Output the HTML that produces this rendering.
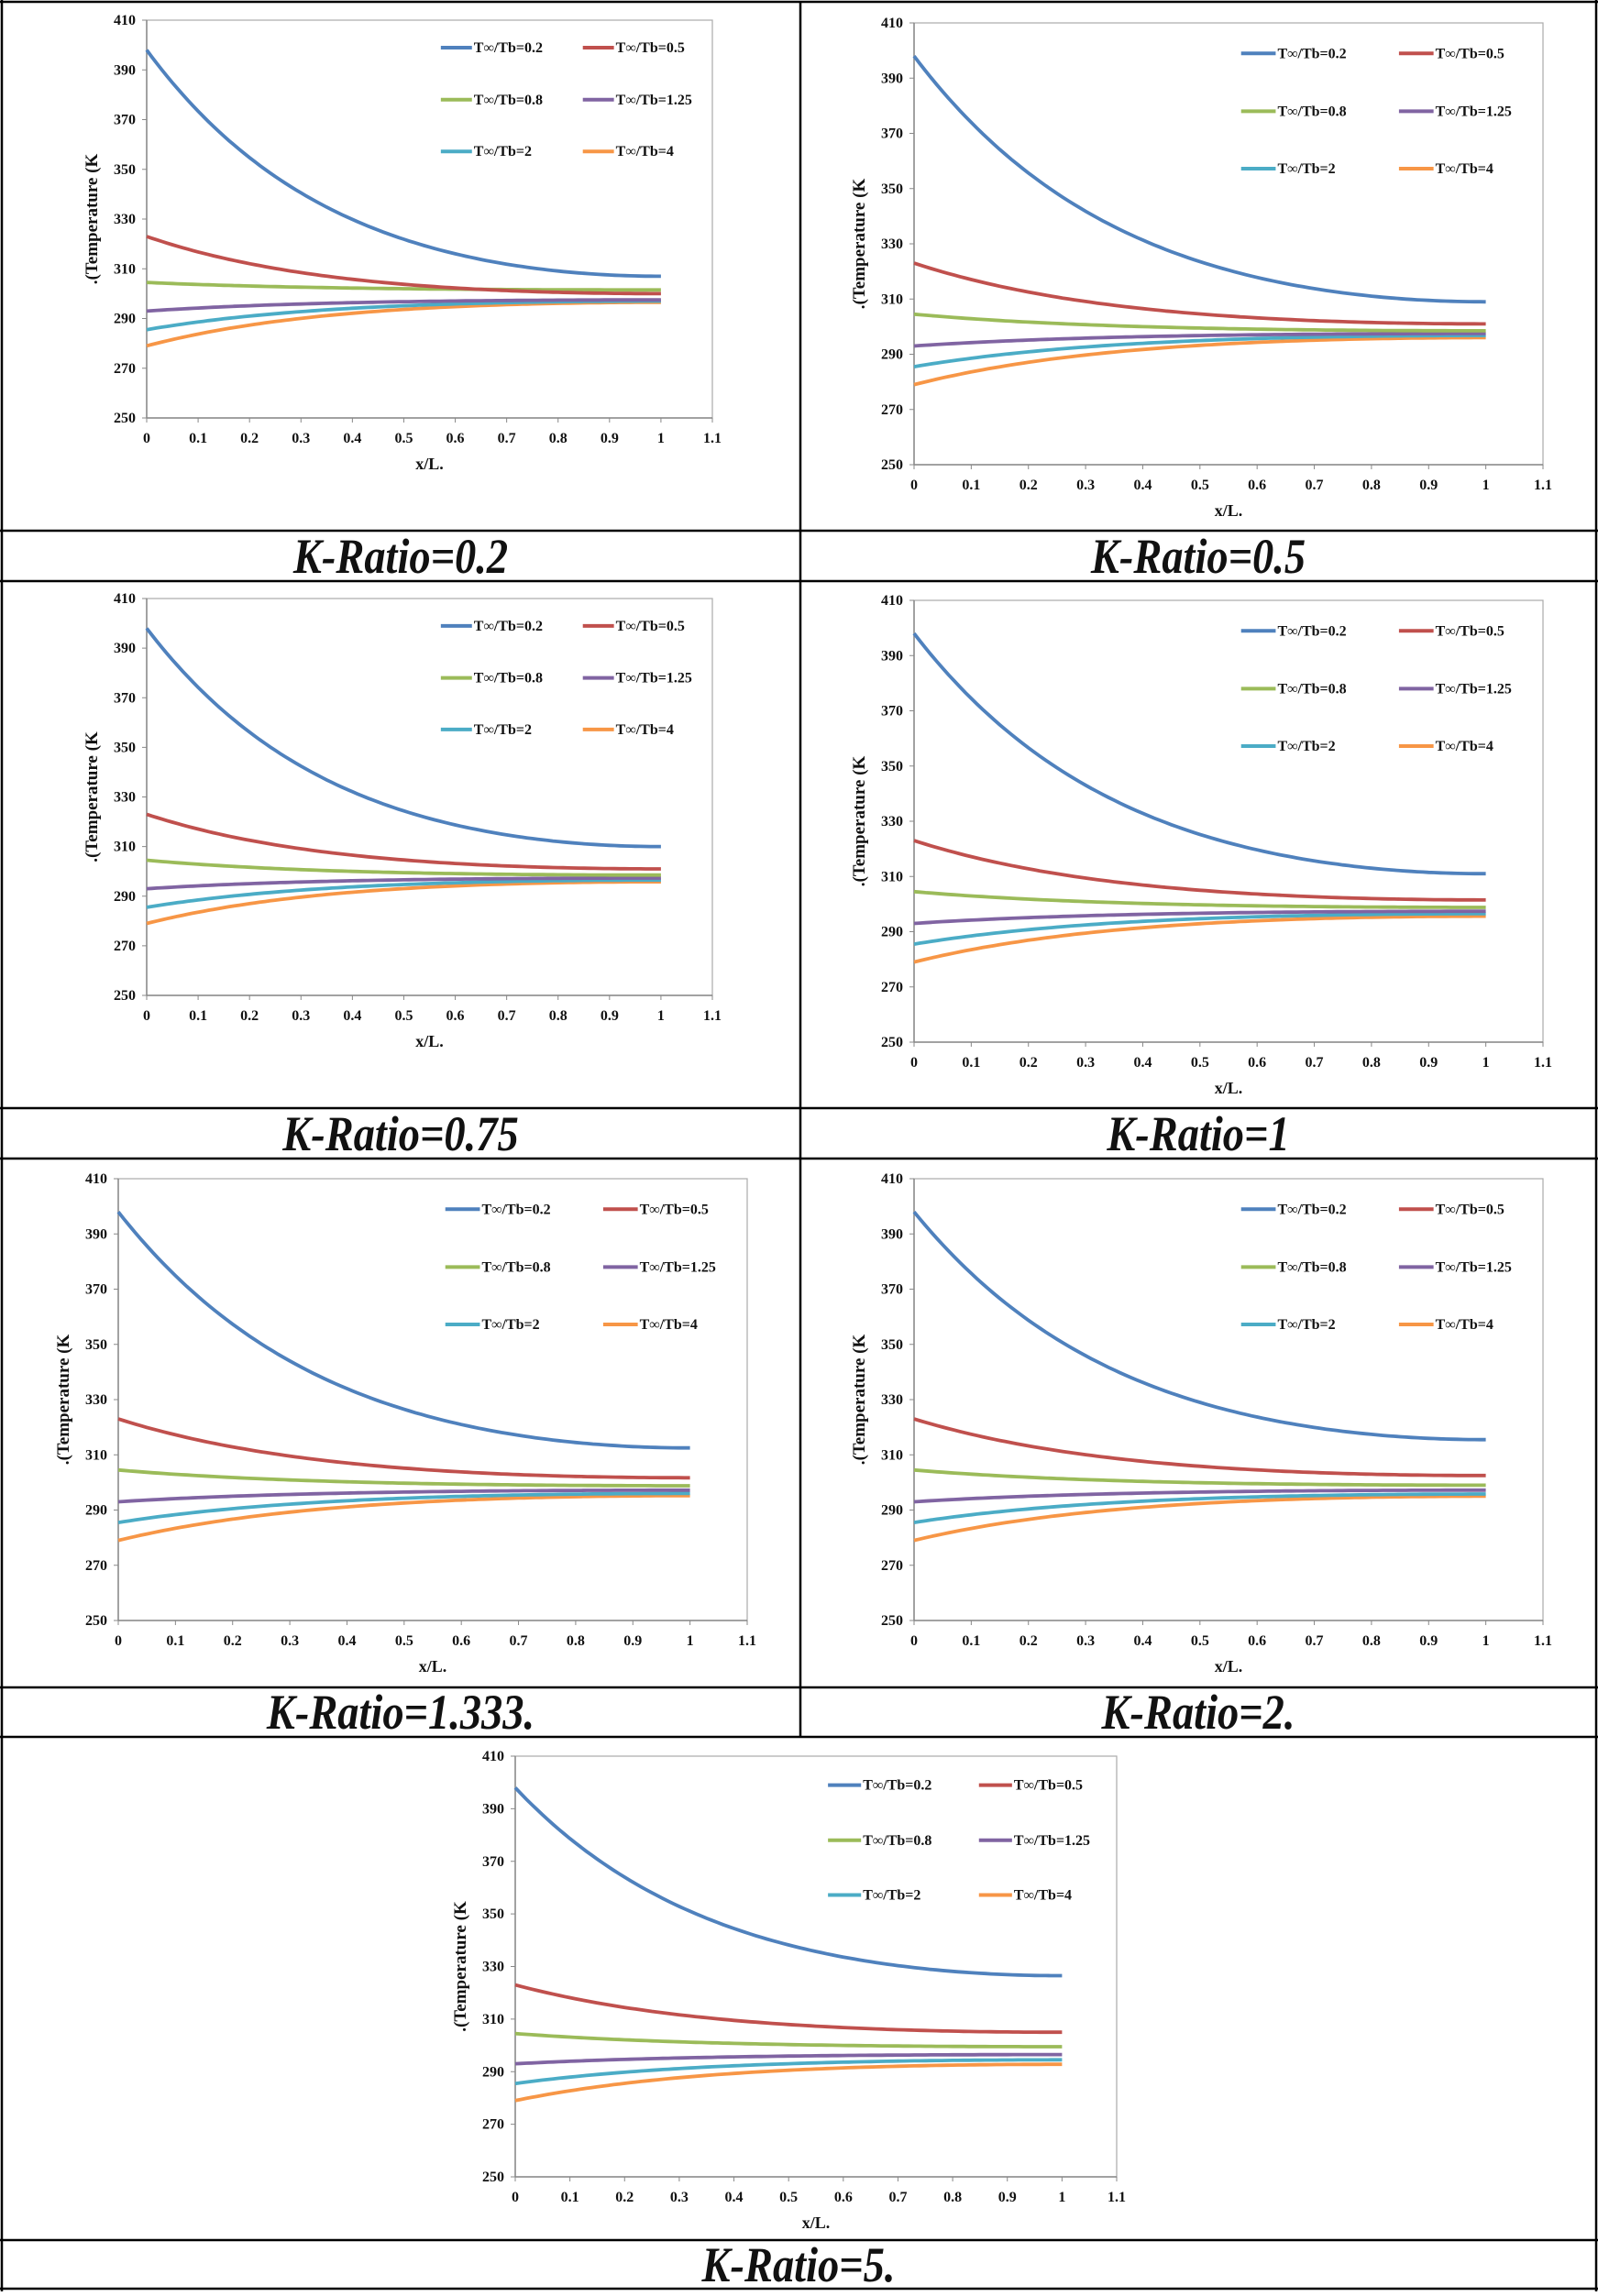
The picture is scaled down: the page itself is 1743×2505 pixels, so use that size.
<!DOCTYPE html>
<html><head><meta charset="utf-8"><style>
html,body{margin:0;padding:0;background:#fff;}
svg text{font-family:"Liberation Serif",serif;font-weight:bold;fill:#111;}
</style></head><body>
<svg id="s" width="1743" height="2500" xmlns="http://www.w3.org/2000/svg"></svg>
<script>
const s=document.getElementById('s');let h='';
const cols=['#4F81BD','#C0504D','#9BBB59','#8064A2','#4BACC6','#F79646'];
const starts=[398,323,304.5,293,285.5,279];
const labs=['T∞/Tb=0.2','T∞/Tb=0.5','T∞/Tb=0.8','T∞/Tb=1.25','T∞/Tb=2','T∞/Tb=4'];
const P=[
 {x0:160,x1:777,yt:22,yb:456,e:[307,300,301.5,297.5,297,296.5]},
 {x0:997,x1:1683,yt:25,yb:507,e:[309,301,298.5,297.5,296.8,296]},
 {x0:160,x1:777,yt:653,yb:1086,e:[310,301,298.5,297.3,296.5,295.8]},
 {x0:997,x1:1683,yt:655,yb:1137,e:[311,301.5,298.8,297.4,296.5,295.6]},
 {x0:129,x1:815,yt:1286,yb:1768,e:[312.5,301.7,298.8,297.2,296,295.2]},
 {x0:997,x1:1683,yt:1286,yb:1768,e:[315.5,302.5,299,297.2,295.8,295]},
 {x0:562,x1:1218,yt:1916,yb:2375,e:[326.5,305,299.5,296.5,294.5,292.8]}
];
const m=2.7,cm=Math.cosh(m)-1;
P.forEach(p=>{
 const w=p.x1-p.x0,H=p.yb-p.yt;
 const X=v=>p.x0+v/1.1*w, Y=t=>p.yb-(t-250)/160*H;
 h+=`<rect x="${p.x0}" y="${p.yt}" width="${w}" height="${H}" fill="none" stroke="#aaa" stroke-width="1.2"/>`;
 h+=`<line x1="${p.x0}" y1="${p.yt}" x2="${p.x0}" y2="${p.yb}" stroke="#888" stroke-width="1.5"/>`;
 h+=`<line x1="${p.x0}" y1="${p.yb}" x2="${p.x1}" y2="${p.yb}" stroke="#888" stroke-width="1.5"/>`;
 for(let i=0;i<=8;i++){const t=250+20*i,y=Y(t);
  h+=`<line x1="${p.x0-5}" y1="${y}" x2="${p.x0}" y2="${y}" stroke="#888"/>`;
  h+=`<text x="${p.x0-12}" y="${y+5}" font-size="16" text-anchor="end">${t}</text>`;}
 for(let i=0;i<=11;i++){const x=X(i/10);
  h+=`<line x1="${x}" y1="${p.yb}" x2="${x}" y2="${p.yb+5}" stroke="#888"/>`;
  h+=`<text x="${x}" y="${p.yb+27}" font-size="16" text-anchor="middle">${i==0?'0':i==10?'1':(i/10).toFixed(1)}</text>`;}
 h+=`<text x="${(p.x0+p.x1)/2}" y="${p.yb+56}" font-size="18" text-anchor="middle">x/L.</text>`;
 const cy=(p.yt+p.yb)/2,cx=p.x0-60;
 h+=`<text x="${cx}" y="${cy}" font-size="19" text-anchor="middle" transform="rotate(-90 ${cx} ${cy})" dy="6">.(Temperature (K</text>`;
 for(let k=5;k>=0;k--){let d='';
  for(let j=0;j<=100;j++){const x=j/100,g=(Math.cosh(m*(1-x))-1)/cm;
   const t=p.e[k]+(starts[k]-p.e[k])*g;d+=(j?'L':'M')+X(x).toFixed(1)+' '+Y(t).toFixed(1);}
  h+=`<path d="${d}" fill="none" stroke="${cols[k]}" stroke-width="3.8"/>`;}
 for(let k=0;k<6;k++){const c=k%2,r=Math.floor(k/2);
  const lx=p.x0+w*(c?0.771:0.52),ly=p.yt+H*[0.069,0.2,0.33][r],ll=w*0.055;
  h+=`<line x1="${lx}" y1="${ly}" x2="${lx+ll}" y2="${ly}" stroke="${cols[k]}" stroke-width="4"/>`;
  h+=`<text x="${lx+ll+2}" y="${ly+5}" font-size="16">${labs[k]}</text>`;}
});
const L=(a,b,c,d)=>h+=`<line x1="${a}" y1="${b}" x2="${c}" y2="${d}" stroke="#000" stroke-width="2.5"/>`;
[2,579,634,1209,1264,1841,1895,2444,2497].forEach(y=>L(0,y,1743,y));
L(2,0,2,2500);L(1741,0,1741,2500);L(873,2,873,1895);
const caps=[['K-Ratio=0.2',437,607],['K-Ratio=0.5',1307,607],['K-Ratio=0.75',437,1237],['K-Ratio=1',1307,1237],['K-Ratio=1.333.',437,1868],['K-Ratio=2.',1307,1868],['K-Ratio=5.',871,2471]];
caps.forEach(c=>h+=`<g transform="translate(${c[1]} ${c[2]+18}) scale(0.86 1)"><text x="0" y="0" font-size="54" font-style="italic" text-anchor="middle">${c[0]}</text></g>`);
s.innerHTML=h;
</script>
</body></html>
